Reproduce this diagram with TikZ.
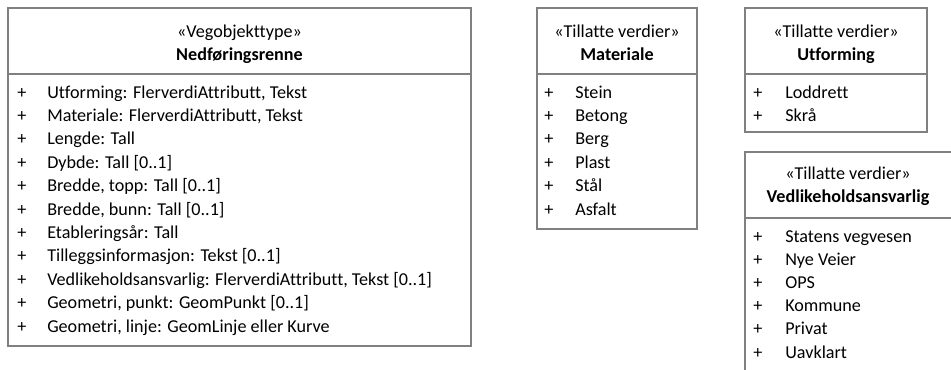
\documentclass[tikz,border=0pt]{standalone}
\usepackage{fontspec}
\setmainfont{Carlito}[Ligatures=NoCommon]
\definecolor{boxline}{RGB}{128,128,128}
\begin{document}
\begin{tikzpicture}[x=0.75pt,y=-0.75pt,
  boxframe/.style={draw=boxline,line width=0.9pt},
  txt/.style={anchor=base west,inner sep=0pt,font=\fontsize{13.6pt}{16pt}\selectfont},
  hdr/.style={anchor=base,inner sep=0pt,font=\fontsize{13.6pt}{16pt}\selectfont},
  ttl/.style={anchor=base,inner sep=0pt,font=\fontsize{13.6pt}{16pt}\selectfont\bfseries}]
\useasboundingbox (0,0) rectangle (951,369);
% Box 1
\draw[boxframe] (8,8) rectangle (471,346);
\draw[boxframe] (8,74) -- (471,74);
\node[hdr] (h1) at (239.5,37) {«Vegobjekttype»};
\node[ttl] (t1) at (239.5,60) {Nedføringsrenne};
\foreach \i/\s in {0/{Utforming: FlerverdiAttributt, Tekst},
  1/{Materiale: FlerverdiAttributt, Tekst},
  2/{Lengde: Tall},
  3/{Dybde: Tall [0..1]},
  4/{Bredde, topp: Tall [0..1]},
  5/{Bredde, bunn: Tall [0..1]},
  6/{Etableringsår: Tall},
  7/{Tilleggsinformasjon: Tekst [0..1]},
  8/{Vedlikeholdsansvarlig: FlerverdiAttributt, Tekst [0..1]},
  9/{Geometri, punkt: GeomPunkt [0..1]},
  10/{Geometri, linje: GeomLinje eller Kurve}}{
  \node[txt] (p1-\i) at (17,98+23.4*\i) {+};
  \node[txt] (a1-\i) at (47,98+23.4*\i) {\s};
}
% Materiale
\draw[boxframe] (537,8) rectangle (697,229);
\draw[boxframe] (537,74) -- (697,74);
\node[hdr] (h2) at (617,37) {«Tillatte verdier»};
\node[ttl] (t2) at (617,60) {Materiale};
\foreach \i/\s in {0/Stein,1/Betong,2/Berg,3/Plast,4/Stål,5/Asfalt}{
  \node[txt] (p2-\i) at (544,98+23.4*\i) {+};
  \node[txt] (a2-\i) at (575,98+23.4*\i) {\s};
}
% Utforming
\draw[boxframe] (745,8) rectangle (927,132);
\draw[boxframe] (745,74) -- (927,74);
\node[hdr] (h3) at (836,37) {«Tillatte verdier»};
\node[ttl] (t3) at (836,60) {Utforming};
\foreach \i/\s in {0/Loddrett,1/Skrå}{
  \node[txt] (p3-\i) at (753,98+23.4*\i) {+};
  \node[txt] (a3-\i) at (785,98+23.4*\i) {\s};
}
% Vedlikeholdsansvarlig
\draw[boxframe] (745,152) rectangle (953,380);
\draw[boxframe] (745,218) -- (953,218);
\node[hdr] (h4) at (848,179) {«Tillatte verdier»};
\node[ttl] (t4) at (848,202) {Vedlikeholdsansvarlig};
\foreach \i/\s in {0/Statens vegvesen,1/Nye Veier,2/OPS,3/Kommune,4/Privat,5/Uavklart}{
  \node[txt] (p4-\i) at (753,242+23.2*\i) {+};
  \node[txt] (a4-\i) at (785,242+23.2*\i) {\s};
}
\end{tikzpicture}
\end{document}
